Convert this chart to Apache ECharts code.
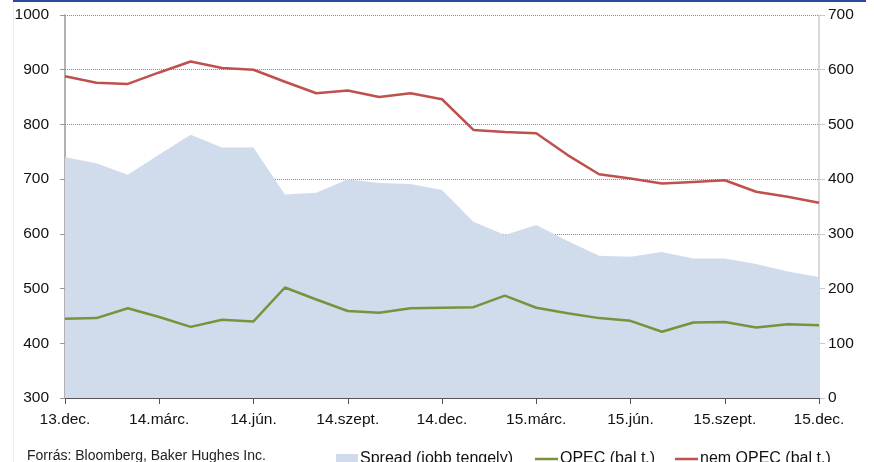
<!DOCTYPE html>
<html>
<head>
<meta charset="utf-8">
<script src="https://cdn.jsdelivr.net/npm/echarts@6/dist/echarts.min.js"></script>
<style>
  html, body { margin: 0; padding: 0; background: #fff; }
  #chart { width: 874px; height: 462px; }
</style>
</head>
<body>
<div id="chart"></div>
<script>
// havi adatok, 2013 dec - 2015 dec
const months = [
  '13.dec.', '14.jan.', '14.febr.', '14.márc.', '14.ápr.', '14.máj.', '14.jún.',
  '14.júl.', '14.aug.', '14.szept.', '14.okt.', '14.nov.', '14.dec.',
  '15.jan.', '15.febr.', '15.márc.', '15.ápr.', '15.máj.', '15.jún.',
  '15.júl.', '15.aug.', '15.szept.', '15.okt.', '15.nov.', '15.dec.'
];
const spread = [440, 429, 408, 445, 481, 458, 458, 372, 375, 400, 393, 391, 380,
  322, 298, 316, 287, 260, 258, 267, 255, 255, 245, 231, 221];
const opec = [445, 446, 464, 448, 430, 443, 440, 502, 480, 459, 456, 464, 465,
  466, 487, 465, 455, 446, 441, 421, 438, 439, 429, 435, 433];
const nemOpec = [888, 876, 874, 895, 915, 903, 900, 878, 857, 862, 850, 857, 846,
  790, 786, 784, 744, 709, 701, 692, 695, 698, 677, 668, 657];

const leftTicks = [300, 1000, 100];   // min, max, step
const rightTicks = [0, 700, 100];

const font = 'Liberation Sans, Arial, sans-serif';
const chart = echarts.init(document.getElementById('chart'));

const legendText = { fontSize: 16, color: '#111', padding: [0, 0, 0, -3] };

chart.setOption({
  animation: false,
  textStyle: { fontFamily: font },
  grid: { left: 65, right: 55, top: 15, bottom: 64 },
  graphic: [
    { type: 'rect', shape: { x: 13, y: 0, width: 853, height: 2 }, style: { fill: '#2a4a9c' } },
    { type: 'rect', shape: { x: 13, y: 2, width: 1, height: 460 }, style: { fill: '#eeeeee' } },
    { type: 'text', left: 27, top: 449, style: { text: 'Forrás: Bloomberg, Baker Hughes Inc.', fontSize: 14, fontFamily: font, fill: '#222' } }
  ],
  legend: [
    {
      data: ['Spread (jobb tengely)'], left: 331, top: 446, itemWidth: 22, itemHeight: 10,
      icon: 'rect', textStyle: legendText
    },
    {
      data: ['OPEC (bal t.)'], left: 530, top: 446, itemWidth: 23, itemHeight: 2.5,
      icon: 'rect', textStyle: legendText
    },
    {
      data: ['nem OPEC (bal t.)'], left: 670, top: 446, itemWidth: 23, itemHeight: 2.5,
      icon: 'rect', textStyle: legendText
    }
  ],
  xAxis: {
    type: 'category',
    data: months,
    boundaryGap: false,
    axisLine: { lineStyle: { color: '#555', width: 1 } },
    axisTick: { interval: 2, length: 6, lineStyle: { color: '#555' } },
    axisLabel: { interval: 2, fontSize: 15.5, color: '#111', margin: 14 },
    splitLine: { show: false }
  },
  yAxis: [
    {
      type: 'value', min: leftTicks[0], max: leftTicks[1], interval: leftTicks[2],
      axisLine: { show: true, lineStyle: { color: '#999', width: 1.5 } },
      axisTick: { show: true, length: 5, lineStyle: { color: '#999' } },
      axisLabel: { fontSize: 15.5, color: '#111', margin: 16, formatter: v => String(v) },
      splitLine: { lineStyle: { color: '#8a8a8a', type: [1, 1], width: 1 } }
    },
    {
      type: 'value', min: rightTicks[0], max: rightTicks[1], interval: rightTicks[2],
      position: 'right',
      axisLine: { show: true, lineStyle: { color: '#ccc', width: 1.5 } },
      axisTick: { show: true, length: 6, lineStyle: { color: '#ccc' } },
      axisLabel: { fontSize: 15.5, color: '#111', margin: 9, formatter: v => String(v) },
      splitLine: { show: false }
    }
  ],
  series: [
    {
      name: 'Spread (jobb tengely)', type: 'line', yAxisIndex: 1, data: spread,
      symbol: 'none', lineStyle: { width: 0 }, itemStyle: { color: '#d0dcec' },
      areaStyle: { color: '#d0dcec', opacity: 1 }, z: 1
    },
    {
      name: 'OPEC (bal t.)', type: 'line', yAxisIndex: 0, data: opec,
      symbol: 'none', lineStyle: { width: 2.5, color: '#77933c' }, itemStyle: { color: '#77933c' }, z: 3
    },
    {
      name: 'nem OPEC (bal t.)', type: 'line', yAxisIndex: 0, data: nemOpec,
      symbol: 'none', lineStyle: { width: 2.5, color: '#c0504d' }, itemStyle: { color: '#c0504d' }, z: 3
    }
  ]
});
</script>
</body>
</html>
